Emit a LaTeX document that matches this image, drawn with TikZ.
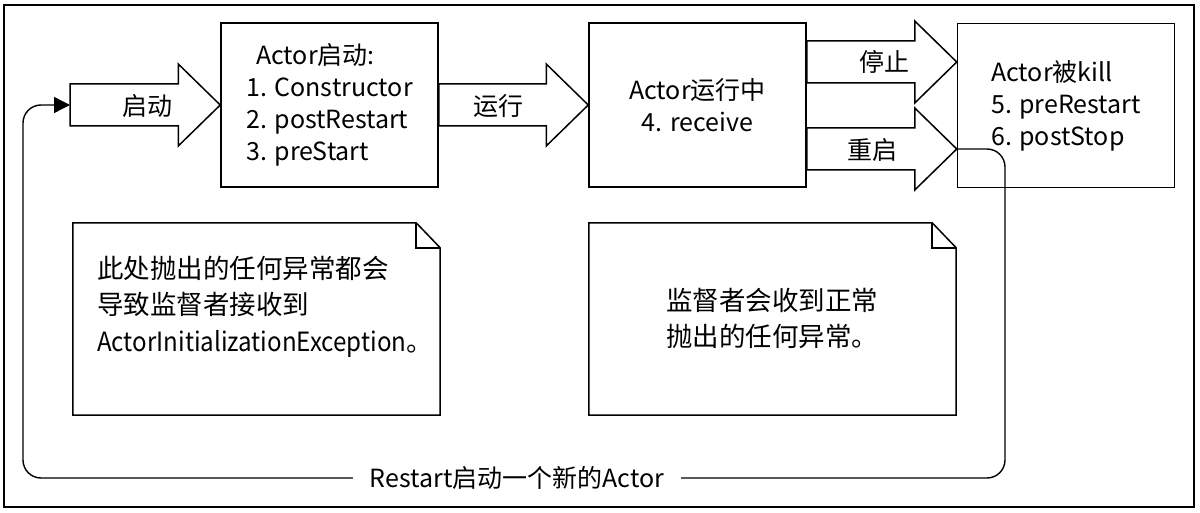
\documentclass[tikz,border=0pt]{standalone}
\usepackage{graphicx}
\usepackage{fontspec}
\setmainfont{Noto Sans CJK SC}
\usetikzlibrary{arrows.meta,calc}
\newcommand{\blockarrow}[2]{%
  \draw[barrow] let \p1=(#1), \p2=(#2) in
    (\x1,\y1-21) -- (\x2-42,\y1-21) -- (\x2-42,\y1-41) -- (\x2,\y2)
    -- (\x2-42,\y1+41) -- (\x2-42,\y1+21) -- (\x1,\y1+21) -- cycle;}
\newcommand{\notebox}[1]{%
  \draw[notestyle] (#1.north west) -- ($(#1.north east)+(-24,0)$)
    -- ($(#1.north east)+(0,25)$) -- (#1.south east) -- (#1.south west) -- cycle;
  \draw[notestyle] ($(#1.north east)+(-24,0)$) -- ($(#1.north east)+(-24,25)$)
    -- ($(#1.north east)+(0,25)$);}
\begin{document}
\begin{tikzpicture}[x=1pt,y=-1pt,
  box/.style={draw,line width=1.5pt,minimum width=217pt,minimum height=164pt,
    inner sep=0pt,font=\fontsize{25}{32}\selectfont},
  barrow/.style={draw,line width=1.5pt,line join=miter},
  notestyle/.style={line width=1.5pt,line join=miter},
  notearea/.style={minimum width=367pt,minimum height=192pt,inner sep=0pt},
  lbl/.style={font=\fontsize{25}{30}\selectfont,inner sep=0pt},
  notetext/.style={font=\fontsize{26.5}{36.5}\selectfont,align=left,anchor=west,inner sep=0pt},
  loopline/.style={line width=1.4pt,rounded corners=18pt},
  looptip/.style={-{Triangle[length=16pt,width=16pt]}}]
\useasboundingbox (0,0) rectangle (1200,513);
\draw[line width=2pt] (4,5) rectangle (1194,507);

% boxes
\node[box,align=left] (b1) at (329.5,105) {\hspace*{10pt}Actor启动:\\1. Constructor\\2. postRestart\\3. preStart};
\node[box,align=center] (b2) at (697.5,105) {Actor运行中\\4. receive};
\node[box,align=left] (b3) at (1066,105.5) {Actor被kill\\5. preRestart\\6. postStop};

% block arrows
\coordinate (stail) at (70,105);
\coordinate (stopA) at (b2.east |- 0,62);
\coordinate (stopB) at (b3.west |- 0,62);
\coordinate (rsA) at (b2.east |- 0,149);
\coordinate (rsB) at (b3.west |- 0,149);
\blockarrow{stail}{b1.west}
\blockarrow{b1.east}{b2.west}
\blockarrow{stopA}{stopB}
\blockarrow{rsA}{rsB}
\node[lbl] (l1) at (147,106) {启动};
\node[lbl] (l2) at (498,106) {运行};
\node[lbl] (l3) at (884,62) {停止};
\node[lbl] (l4) at (872,150) {重启};

% notes
\node[notearea] (n1) at (256.5,319) {};
\node[notearea] (n2) at (772.5,319) {};
\notebox{n1}
\notebox{n2}
\node[notetext] (t1) at (97,306.5) {此处抛出的任何异常都会\\导致监督者接收到\\\scalebox{0.91}[1]{ActorInitializationException}。};
\node[notetext] (t2) at (666,318.5) {监督者会收到正常\\抛出的任何异常。};

% restart loop
\draw[loopline,looptip] (rsB) -- (1005,149) -- (1005,478) -- (23,478) -- (23,105) -- (stail);
\node[lbl,fill=white,inner xsep=17pt,inner ysep=4pt] (rl) at (517,478) {Restart启动一个新的Actor};
\end{tikzpicture}
\end{document}
